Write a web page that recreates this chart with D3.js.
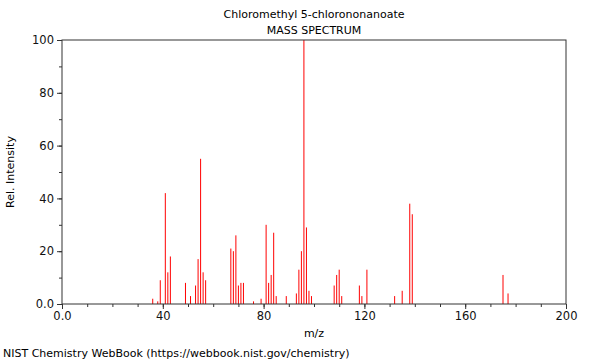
<!DOCTYPE html>
<html><head><meta charset="utf-8">
<script src="https://cdn.jsdelivr.net/npm/d3@7"></script>
<style>body{margin:0;background:#fff}svg{display:block;font-family:"DejaVu Sans",sans-serif}</style>
</head><body><svg id="c" width="600" height="360"></svg>
<script>
const mz =        [36,38,39,41,42,43,49,51,53,54,55,56,57,67,68,69,70,71,72,76,79,81,82,83,84,85,89,93,94,95,96,97,98,99,108,109,110,111,118,119,121,132,135,138,139,175,177];
const intensity = [2, 1, 9, 42,12,18,8, 3, 7, 17,55,12,9, 21,20,26,7, 8, 8, 1, 2, 30,8, 11,27,3, 3, 4, 13,20,100,29,5,3, 7,  11, 13, 3,  7,  3,  13, 3,  5,  38, 34, 11, 4];
const xTicks = [0,40,80,120,160,200];
const yTicks = [0,20,40,60,80,100];
const title = "Chloromethyl 5-chlorononanoate";
const subtitle = "MASS SPECTRUM";

const svg = d3.select("#c");
const L=62,R=566,T=40,B=304;
const x = d3.scaleLinear().domain([0,200]).range([L,R]);
const y = d3.scaleLinear().domain([0,100]).range([B,T]);
const fmt = d => d===0 ? "0.0" : String(d);

svg.append("g").selectAll("line").data(mz).join("line")
  .attr("x1",(d)=>x(d)).attr("x2",(d)=>x(d))
  .attr("y1",y(0)).attr("y2",(d,i)=>y(intensity[i]))
  .attr("stroke","#ff0000").attr("stroke-width",1);

svg.append("rect").attr("x",L).attr("y",T).attr("width",R-L).attr("height",B-T)
  .attr("fill","none").attr("stroke","#333").attr("stroke-width",1);

const xa = svg.append("g").attr("transform",`translate(0,${B})`);
xa.call(d3.axisBottom(x).tickValues(d3.range(0,201,10)).tickSize(3).tickFormat(""));
xa.append("g").call(d3.axisBottom(x).tickValues(xTicks).tickSize(5).tickFormat(fmt));
const ya = svg.append("g").attr("transform",`translate(${L},0)`);
ya.call(d3.axisLeft(y).tickValues(d3.range(0,101,10)).tickSize(3).tickFormat(""));
ya.append("g").call(d3.axisLeft(y).tickValues(yTicks).tickSize(5).tickFormat(fmt));
svg.selectAll(".domain").remove();
svg.selectAll(".tick line").attr("stroke","#333");
svg.selectAll(".tick text").attr("font-size",11.5).attr("fill","#111").attr("font-family","DejaVu Sans");

svg.append("text").attr("x",314).attr("y",18).attr("text-anchor","middle").attr("font-size",11).text(title);
svg.append("text").attr("x",314).attr("y",34).attr("text-anchor","middle").attr("font-size",11).text(subtitle);
svg.append("text").attr("x",314).attr("y",337).attr("text-anchor","middle").attr("font-size",11).text("m/z");
svg.append("text").attr("transform","translate(14,172) rotate(-90)").attr("text-anchor","middle").attr("font-size",11).text("Rel. Intensity");
svg.append("text").attr("x",3).attr("y",357).attr("font-size",11).text("NIST Chemistry WebBook (https://webbook.nist.gov/chemistry)");
</script></body></html>
